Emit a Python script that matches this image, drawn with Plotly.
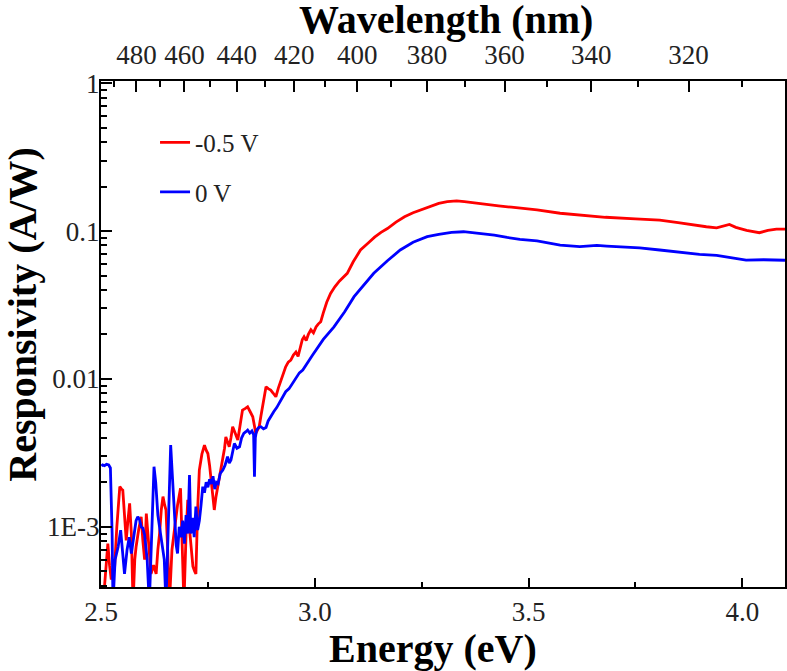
import plotly.graph_objects as go

# ---------------- data ----------------
energy_red = [2.505, 2.512, 2.516, 2.520, 2.524, 2.528, 2.532, 2.537, 2.541, 2.544, 2.548, 2.551, 2.555,
              2.559, 2.563, 2.567, 2.571, 2.575, 2.579, 2.582, 2.588, 2.594, 2.598, 2.602, 2.606, 2.611,
              2.617, 2.623, 2.629, 2.633, 2.637, 2.641, 2.645, 2.649, 2.652, 2.656, 2.660, 2.666, 2.672,
              2.679, 2.686, 2.690, 2.694, 2.699, 2.703, 2.708, 2.715, 2.719, 2.722, 2.726, 2.730, 2.736,
              2.742, 2.746, 2.750, 2.754, 2.757, 2.761, 2.765, 2.769, 2.773, 2.779, 2.785, 2.789, 2.792,
              2.796, 2.800, 2.804, 2.808, 2.814, 2.820, 2.826, 2.831, 2.837, 2.843, 2.849, 2.855, 2.859,
              2.862, 2.866, 2.870, 2.874, 2.878, 2.882, 2.886, 2.891, 2.897, 2.903, 2.909, 2.915, 2.921,
              2.927, 2.932, 2.938, 2.944, 2.950, 2.956, 2.961, 2.966, 2.971, 2.975, 2.980, 2.985, 2.991,
              2.997, 3.003, 3.008, 3.014, 3.020, 3.028, 3.037, 3.047, 3.058, 3.067, 3.076, 3.090, 3.107,
              3.125, 3.140, 3.155, 3.170, 3.190, 3.210, 3.230, 3.247, 3.270, 3.290, 3.310, 3.332, 3.350,
              3.370, 3.400, 3.430, 3.460, 3.480, 3.520, 3.574, 3.620, 3.680, 3.750, 3.807, 3.850, 3.890,
              3.916, 3.940, 3.955, 3.970, 3.985, 4.010, 4.040, 4.060, 4.080, 4.100]
resp_red = [0.0003, 0.00060, 0.00077, 0.00055, 0.00044, 0.00052, 0.00054, 0.00100, 0.00160, 0.00187,
            0.00180, 0.00177, 0.00120, 0.00081, 0.00110, 0.00144, 0.00090, 0.0003, 0.00060, 0.00073,
            0.00095, 0.00117, 0.00080, 0.00060, 0.00123, 0.00080, 0.00048, 0.00055, 0.00048, 0.00070,
            0.00090, 0.00130, 0.00160, 0.00140, 0.00130, 0.00070, 0.0003, 0.00070, 0.00100, 0.00140,
            0.00182, 0.00090, 0.0003, 0.00090, 0.00152, 0.00090, 0.00054, 0.00050, 0.00048, 0.00130,
            0.00242, 0.00310, 0.00357, 0.00330, 0.00313, 0.00260, 0.00218, 0.00170, 0.00130, 0.00160,
            0.00187, 0.00230, 0.00283, 0.00340, 0.00406, 0.00380, 0.00348, 0.00400, 0.00475, 0.00430,
            0.00386, 0.00500, 0.00616, 0.00630, 0.00648, 0.00600, 0.00555, 0.00480, 0.00428, 0.00450,
            0.00475, 0.00560, 0.00648, 0.00760, 0.00886, 0.00860, 0.00841, 0.00800, 0.00758, 0.00870,
            0.00982, 0.01100, 0.01209, 0.01300, 0.01341, 0.01450, 0.01520, 0.01420, 0.01600, 0.01850,
            0.01930, 0.01820, 0.02000, 0.02150, 0.02050, 0.02250, 0.02350, 0.02440, 0.02800, 0.03300,
            0.03790, 0.04200, 0.04600, 0.04900, 0.05180, 0.06200, 0.07450, 0.08300, 0.09100, 0.09800,
            0.10400, 0.11500, 0.12500, 0.13300, 0.13900, 0.14800, 0.15400, 0.15800, 0.16000, 0.15800,
            0.15500, 0.15200, 0.14800, 0.14500, 0.14300, 0.13900, 0.13200, 0.12800, 0.12400, 0.12100,
            0.11850, 0.11400, 0.10900, 0.10700, 0.10500, 0.10800, 0.11100, 0.10600, 0.10100, 0.09750,
            0.10100, 0.10300, 0.10300]

energy_blue = [2.501, 2.504, 2.508, 2.513, 2.518, 2.522, 2.526, 2.528, 2.533, 2.540, 2.546, 2.551, 2.555,
               2.561, 2.566, 2.571, 2.577, 2.582, 2.586, 2.590, 2.594, 2.598, 2.602, 2.608, 2.613, 2.619,
               2.624, 2.628, 2.633, 2.638, 2.643, 2.648, 2.652, 2.658, 2.663, 2.667, 2.672, 2.676, 2.679,
               2.683, 2.687, 2.691, 2.695, 2.699, 2.703, 2.707, 2.710, 2.714, 2.718, 2.722, 2.726, 2.730,
               2.734, 2.738, 2.742, 2.746, 2.750, 2.754, 2.758, 2.762, 2.766, 2.770, 2.774, 2.779, 2.785,
               2.790, 2.796, 2.800, 2.804, 2.808, 2.812, 2.818, 2.824, 2.829, 2.834, 2.839, 2.843, 2.848,
               2.853, 2.857, 2.859, 2.861, 2.864, 2.869, 2.874, 2.880, 2.886, 2.891, 2.897, 2.904, 2.911,
               2.918, 2.925, 2.932, 2.940, 2.948, 2.956, 2.964, 2.972, 2.980, 2.987, 2.995, 3.005, 3.020,
               3.045, 3.070, 3.092, 3.115, 3.138, 3.170, 3.200, 3.230, 3.263, 3.290, 3.320, 3.348, 3.380,
               3.420, 3.450, 3.480, 3.520, 3.574, 3.620, 3.660, 3.683, 3.720, 3.760, 3.807, 3.850, 3.900,
               3.940, 3.963, 3.985, 4.009, 4.050, 4.100]
resp_blue = [0.00258, 0.00262, 0.00259, 0.00265, 0.00262, 0.00250, 0.0009, 0.0003, 0.00060, 0.00073,
             0.00095, 0.00060, 0.00048, 0.00070, 0.00085, 0.00066, 0.00090, 0.00110, 0.00117, 0.00112,
             0.00100, 0.00098, 0.00088, 0.00060, 0.0003, 0.0012, 0.00255, 0.00200, 0.00120, 0.00095,
             0.00073, 0.00060, 0.0003, 0.0014, 0.00357, 0.00220, 0.00110, 0.00075, 0.00066, 0.00100,
             0.00085, 0.00110, 0.00077, 0.00120, 0.00090, 0.00224, 0.00090, 0.00115, 0.00085, 0.00137,
             0.00095, 0.00110, 0.00140, 0.00187, 0.00170, 0.00200, 0.00185, 0.00210, 0.00195, 0.00220,
             0.00180, 0.00200, 0.00196, 0.00230, 0.00242, 0.00260, 0.00298, 0.00270, 0.00283, 0.00330,
             0.00366, 0.00340, 0.00348, 0.00400, 0.00428, 0.00440, 0.00451, 0.00430, 0.00445, 0.00420,
             0.00218, 0.00400, 0.00451, 0.00470, 0.00475, 0.00460, 0.00470, 0.00520, 0.00560, 0.00600,
             0.00640, 0.00700, 0.00760, 0.00820, 0.00860, 0.00930, 0.01020, 0.01100, 0.01150, 0.01260,
             0.01340, 0.01450, 0.01600, 0.01850, 0.0225, 0.0285, 0.0360, 0.0435, 0.0518, 0.0630, 0.0745,
             0.0840, 0.0916, 0.0950, 0.0980, 0.0990, 0.0970, 0.0940, 0.0905, 0.0880, 0.0860, 0.0804,
             0.0785, 0.0800, 0.0792, 0.0780, 0.0770, 0.0745, 0.0720, 0.0695, 0.0685, 0.0670, 0.0650,
             0.0637, 0.0640, 0.0635]

series_names = ["-0.5 V", "0 V"]
series_colors = ["#ff0000", "#0000ff"]

energy_ticks = [2.5, 3.0, 3.5, 4.0]
energy_tick_text = ["2.5", "3.0", "3.5", "4.0"]
energy_minor = [2.75, 3.25, 3.75]
wavelength_major = [480, 460, 440, 420, 400, 380, 360, 340, 320]
wavelength_minor = [490, 470, 450, 430, 410, 390, 370, 350, 330, 310]
y_tick_vals = [1e-3, 1e-2, 1e-1, 1]
y_tick_text = ["1E-3", "0.01", "0.1", "1"]
HC = 1239.84  # eV*nm

x_title = "Energy (eV)"
x2_title = "Wavelength (nm)"
y_title = "Responsivity (A/W)"

FONT = "Liberation Serif, Times New Roman, serif"
TICKFONT = dict(family=FONT, size=27, color="#222")
TITLEFONT = dict(family=FONT, size=40, color="black")

y_minor = [m * 10.0 ** k for k in range(-4, 0) for m in range(2, 10)]

fig = go.Figure()
fig.add_trace(go.Scatter(x=energy_red, y=resp_red, mode="lines", name=series_names[0],
                         legendgroup="a", line=dict(color=series_colors[0], width=2.8)))
fig.add_trace(go.Scatter(x=energy_blue, y=resp_blue, mode="lines", name=series_names[1],
                         legendgroup="b", line=dict(color=series_colors[1], width=2.8)))
# transparent trace to attach the wavelength (top) axis
fig.add_trace(go.Scatter(x=energy_blue, y=resp_blue, xaxis="x2", mode="lines",
                         line=dict(width=0, color="rgba(0,0,0,0)"), showlegend=False,
                         hoverinfo="skip"))

common = dict(showline=True, linewidth=2, linecolor="black", showgrid=False, zeroline=False,
              automargin=False, tickfont=TICKFONT, ticks="inside", tickwidth=2, tickcolor="black")

fig.update_layout(
    width=787, height=671,
    margin=dict(l=101, r=2, t=81, b=84),
    paper_bgcolor="white", plot_bgcolor="white",
    font=dict(family=FONT, color="#222", size=25),
    showlegend=True,
    legend=dict(x=0.079, y=0.9235, xanchor="left", yanchor="top", bgcolor="rgba(0,0,0,0)",
                font=dict(family=FONT, size=25, color="#222"), traceorder="grouped",
                tracegroupgap=14),
    xaxis=dict(range=[2.5, 4.1], tickmode="array", tickvals=energy_ticks, ticktext=energy_tick_text,
               ticklen=9, mirror=False, ticklabelstandoff=0,
               minor=dict(tickvals=energy_minor, ticks="inside", ticklen=5, tickwidth=2,
                          tickcolor="black", showgrid=False),
               **common),
    xaxis2=dict(range=[2.5, 4.1], overlaying="x", side="top", anchor="y",
                tickmode="array", tickvals=[HC / w for w in wavelength_major],
                ticktext=[str(w) for w in wavelength_major],
                ticklen=11, ticklabelstandoff=4,
                minor=dict(tickvals=[HC / w for w in wavelength_minor], ticks="inside", ticklen=6,
                           tickwidth=2, tickcolor="black", showgrid=False),
                **common),
    yaxis=dict(type="log", range=[-3.407, 0.015], tickmode="array", tickvals=y_tick_vals,
               ticktext=y_tick_text, ticklen=11, mirror=True, ticklabelstandoff=-6,
               minor=dict(tickvals=y_minor, ticks="inside", ticklen=6, tickwidth=2,
                          tickcolor="black", showgrid=False),
               **common),
    annotations=[
        dict(text="<b>" + x_title + "</b>", xref="paper", yref="paper", x=0.485, y=-0.1206,
             xanchor="center", yanchor="middle", showarrow=False, font=TITLEFONT),
        dict(text="<b>" + x2_title + "</b>", xref="paper", yref="paper", x=0.504, y=1.1225,
             xanchor="center", yanchor="middle", showarrow=False, font=TITLEFONT),
        dict(text="<b>" + y_title + "</b>", xref="paper", yref="paper", x=-0.116, y=0.5375,
             xanchor="center", yanchor="middle", textangle=-90, showarrow=False, font=TITLEFONT),
    ],
)

# remove the browser's default 8px body margin so the figure fills the window exactly
fig.write_html("out.html", config={"displayModeBar": False},
               post_script="document.body.style.margin='0';")
